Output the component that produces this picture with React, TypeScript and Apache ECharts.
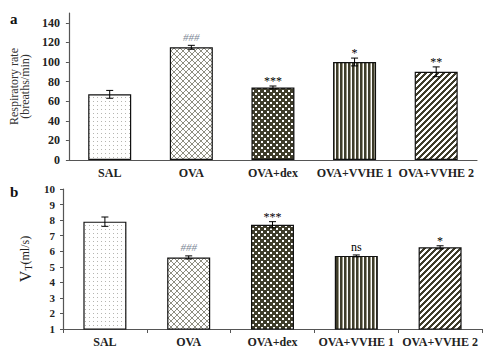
import React, { useEffect, useRef } from "react";
import * as echarts from "echarts";

const categories = ["SAL", "OVA", "OVA+dex", "OVA+VVHE 1", "OVA+VVHE 2"];
const rrValues = [67, 115, 74, 100, 90];
const rrErrors = [4, 2, 1.5, 4, 5];
const rrMarks = ["", "###", "***", "*", "**"];
const vtValues = [7.9, 5.6, 7.7, 5.7, 6.25];
const vtErrors = [0.3, 0.1, 0.2, 0.06, 0.1];
const vtMarks = ["", "###", "***", "ns", "*"];
const rrTicks = [0, 20, 40, 60, 80, 100, 120, 140];
const vtTicks = [1, 2, 3, 4, 5, 6, 7, 8, 9, 10];

const DARK = "#3f3d2b";

function makeTile(w: number, h: number, draw: (ctx: CanvasRenderingContext2D) => void) {
  const c = document.createElement("canvas");
  c.width = w;
  c.height = h;
  const ctx = c.getContext("2d")!;
  ctx.fillStyle = "#ffffff";
  ctx.fillRect(0, 0, w, h);
  draw(ctx);
  return { image: c.toDataURL(), repeat: "repeat", imageWidth: w, imageHeight: h } as any;
}

function makePatterns() {
  const dots = makeTile(4, 4, (ctx) => {
    ctx.fillStyle = "#b5b5b0";
    ctx.fillRect(1, 1, 1, 1);
  });
  const cross = makeTile(6, 6, (ctx) => {
    ctx.fillStyle = "#8e8e80";
    for (let i = 0; i < 6; i++) {
      ctx.fillRect(i, i, 1, 1);
      ctx.fillRect(5 - i, i, 1, 1);
    }
  });
  const checker = makeTile(6, 6, (ctx) => {
    ctx.fillStyle = DARK;
    ctx.fillRect(0, 0, 6, 6);
    ctx.fillStyle = "#ffffff";
    ctx.fillRect(0, 0, 2, 2);
    ctx.fillRect(3, 3, 2, 2);
  });
  const vstripe = makeTile(4, 4, (ctx) => {
    ctx.fillStyle = DARK;
    ctx.fillRect(0, 0, 2, 4);
    ctx.fillStyle = "#9a9884";
    ctx.fillRect(2, 0, 1, 4);
  });
  const diag = makeTile(6, 6, (ctx) => {
    ctx.fillStyle = DARK;
    for (let y = 0; y < 6; y++) {
      for (let k = 0; k < 3; k++) {
        ctx.fillRect((5 - y + k) % 6, y, 1, 1);
      }
    }
  });
  return [dots, cross, checker, vstripe, diag];
}

const FONT = "Liberation Serif";

function errorSeries(values: number[], errors: number[], marks: string[], axisIdx: number) {
  return {
    type: "custom",
    xAxisIndex: axisIdx,
    yAxisIndex: axisIdx,
    z: 5,
    clip: false,
    itemStyle: { color: "#000" },
    data: values.map((v, i) => [i, v, errors[i]]),
    renderItem: (params: any, api: any) => {
      const x = api.value(0);
      const v = api.value(1);
      const e = api.value(2);
      const hi = api.coord([x, v + e]);
      const lo = api.coord([x, v - e]);
      const w = 3.5;
      const mark = marks[params.dataIndex];
      const isHash = mark.indexOf("#") >= 0;
      const isNs = mark === "ns";
      const style = { stroke: "#000", lineWidth: 1 };
      const children: any[] = [
        { type: "line", shape: { x1: hi[0], y1: hi[1], x2: lo[0], y2: lo[1] }, style },
        { type: "line", shape: { x1: hi[0] - w, y1: hi[1], x2: hi[0] + w, y2: hi[1] }, style },
        { type: "line", shape: { x1: lo[0] - w, y1: lo[1], x2: lo[0] + w, y2: lo[1] }, style },
      ];
      if (mark) {
        children.push({
          type: "text",
          x: hi[0],
          y: hi[1] + (isHash ? -3 : isNs ? -2 : 1),
          style: {
            text: mark,
            fontFamily: FONT,
            fontSize: isHash ? 11 : 12,
            fontStyle: isHash ? "italic" : "normal",
            fill: isHash ? "#7d8796" : "#000",
            stroke: "none",
            align: "center",
            verticalAlign: "bottom",
          },
        });
      }
      return { type: "group", children };
    },
  };
}

export default function App() {
  const ref = useRef<HTMLDivElement>(null);
  useEffect(() => {
    const chart = echarts.init(ref.current!, null, { renderer: "svg" });
    const patterns = makePatterns();
    const xAxisCommon = {
      type: "category",
      data: categories,
      axisLine: { lineStyle: { color: "#555", width: 1.2 } },
      axisLabel: {
        interval: 0,
        fontFamily: FONT,
        fontWeight: "bold",
        fontSize: 12,
        color: "#222",
        margin: 7,
      },
      splitLine: { show: false },
    };
    const option: any = {
      animation: false,
      backgroundColor: "#ffffff",
      grid: [
        { left: 67, right: 23, top: 13, bottom: 194 },
        { left: 63, right: 18, top: 189, bottom: 25 },
      ],
      xAxis: [
        { ...xAxisCommon, gridIndex: 0, axisTick: { show: false } },
        {
          ...xAxisCommon,
          gridIndex: 1,
          axisTick: { show: true, length: 4, lineStyle: { color: "#555" } },
        },
      ],
      yAxis: [
        {
          type: "value",
          gridIndex: 0,
          min: 0,
          max: 150,
          interval: 10,
          axisLine: { show: true, lineStyle: { color: "#555", width: 1.2 } },
          axisTick: { show: true, length: 3, customValues: rrTicks, lineStyle: { color: "#555" } },
          axisLabel: {
            customValues: rrTicks,
            fontFamily: FONT,
            fontWeight: "bold",
            fontSize: 12,
            color: "#222",
            margin: 9,
          },
          splitLine: { show: false },
          name: "Respiratory rate\n(breaths/min)",
          nameLocation: "middle",
          nameGap: 19,
          nameTextStyle: { fontFamily: FONT, fontSize: 12, color: "#333", lineHeight: 11 },
        },
        {
          type: "value",
          gridIndex: 1,
          min: 1,
          max: 10,
          interval: 1,
          axisLine: { show: true, lineStyle: { color: "#555", width: 1.2 } },
          axisTick: { show: true, length: 3, customValues: vtTicks, lineStyle: { color: "#555" } },
          axisLabel: {
            customValues: vtTicks,
            fontFamily: FONT,
            fontWeight: "bold",
            fontSize: 11,
            color: "#222",
            margin: 8,
          },
          splitLine: { show: false },
          name: "{v|V}{t|T}{u|(ml/s)}",
          nameLocation: "middle",
          nameGap: 30,
          nameTextStyle: {
            rich: {
              v: { fontFamily: FONT, fontSize: 16, color: "#222" },
              t: { fontFamily: FONT, fontSize: 10, color: "#222", verticalAlign: "bottom", padding: [6, 0, 0, 0] },
              u: { fontFamily: FONT, fontSize: 12, color: "#222" },
            },
          },
        },
      ],
      series: [
        {
          type: "bar",
          xAxisIndex: 0,
          yAxisIndex: 0,
          barWidth: 43,
          data: rrValues.map((v, i) => ({
            value: v,
            itemStyle: { color: patterns[i], borderColor: "#111", borderWidth: 1.2 },
          })),
        },
        errorSeries(rrValues, rrErrors, rrMarks, 0),
        {
          type: "bar",
          xAxisIndex: 1,
          yAxisIndex: 1,
          barWidth: 43,
          clip: true,
          data: vtValues.map((v, i) => ({
            value: v,
            itemStyle: { color: patterns[i], borderColor: "#111", borderWidth: 1.2 },
          })),
        },
        errorSeries(vtValues, vtErrors, vtMarks, 1),
      ],
      graphic: [
        {
          type: "text",
          left: 10,
          top: 11,
          style: { text: "a", fontFamily: FONT, fontWeight: "bold", fontSize: 15, fill: "#111" },
        },
        {
          type: "text",
          left: 10,
          top: 184,
          style: { text: "b", fontFamily: FONT, fontWeight: "bold", fontSize: 15, fill: "#111" },
        },
      ],
    };
    chart.setOption(option);
    return () => chart.dispose();
  }, []);
  return (
    <div
      ref={ref}
      style={{ position: "fixed", left: 0, top: 0, width: 500, height: 354, background: "#fff" }}
    />
  );
}
